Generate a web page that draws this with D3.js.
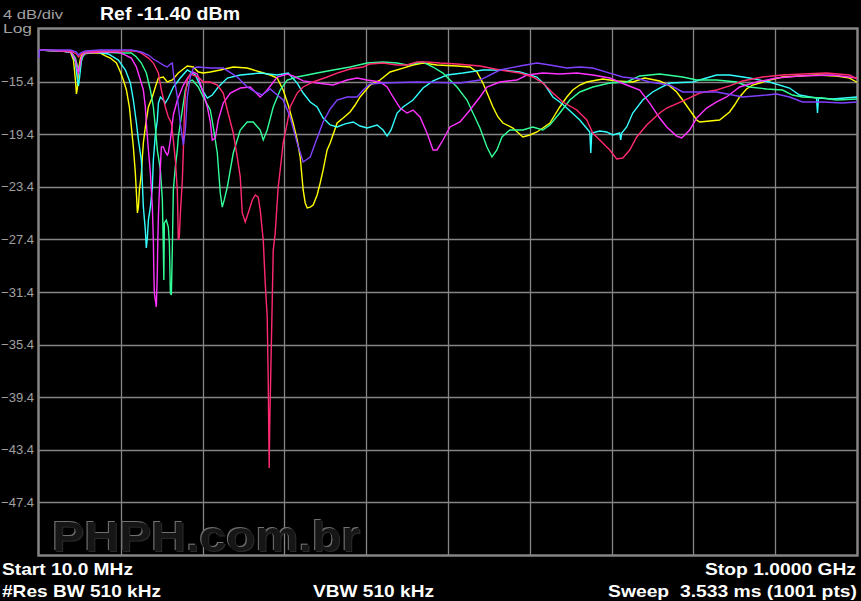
<!DOCTYPE html>
<html><head><meta charset="utf-8">
<script src="https://cdn.jsdelivr.net/npm/d3@7"></script>
<style>html,body{margin:0;padding:0;background:#000;overflow:hidden}</style>
</head><body>
<svg id="c" width="861" height="601"></svg>
<script>
// ---- axis settings (values) ----
const startMHz = 10, stopMHz = 1000;
const refLevel = -11.4, dbPerDiv = 4, nDivs = 10;
const yTickLabels = [-15.4, -19.4, -23.4, -27.4, -31.4, -35.4, -39.4, -43.4, -47.4];

// ---- traces: [frequency MHz, level dBm] ----
const traceYellow = [[10,-13.0],[36,-13.07],[48.1,-13.15],[51.7,-13.76],[54.1,-15.28],[55.3,-16.34],[56.5,-15.89],[57.7,-14.52],[60.2,-13.61],[62.6,-13.3],[72.3,-13.23],[84.3,-13.23],[90.4,-13.45],[96.4,-13.61],[103.7,-13.99],[108.5,-14.67],[112.1,-15.28],[115.8,-16.04],[119.4,-17.33],[121.8,-18.85],[124.2,-20.37],[126.6,-22.35],[127.9,-23.87],[129.1,-25.39],[130.3,-24.94],[131.5,-23.64],[132.7,-23.04],[133.9,-22.35],[135.1,-21.13],[136.3,-20.07],[138.7,-18.85],[142.4,-17.33],[147.2,-16.57],[150.8,-15.81],[154.5,-15.13],[160.5,-15.05],[165.3,-15.43],[171.4,-15.28],[178.6,-14.75],[189.5,-14.21],[196.8,-14.29],[202.8,-14.67],[208.8,-14.75],[217.3,-14.67],[229.4,-14.52],[245.1,-14.29],[262,-14.37],[277.7,-14.67],[289.8,-14.9],[298.3,-15.13],[305.5,-16.04],[311.6,-17.18],[317.6,-18.55],[322.5,-19.84],[326.1,-21.13],[329.7,-23.64],[332.2,-24.63],[334.6,-25.01],[338.2,-24.94],[341.8,-24.78],[346.6,-24.02],[350.3,-23.11],[353.9,-22.12],[358.7,-20.6],[362.4,-20.07],[370.8,-18.55],[378.1,-18.17],[386.5,-17.71],[392.6,-17.18],[398.6,-16.57],[410.7,-15.66],[422.8,-15.28],[434.9,-14.67],[450.6,-14.37],[462.7,-14.14],[474.8,-13.99],[491.7,-14.14],[515.9,-14.21],[531.6,-14.29],[540.1,-14.67],[547.3,-15.51],[553.4,-16.42],[559.4,-17.33],[565.5,-18.09],[571.5,-18.55],[583.6,-18.93],[595.6,-19.61],[604.1,-19.46],[612.6,-19.23],[619.8,-18.93],[628.3,-18.55],[634.3,-17.94],[640.3,-17.33],[648.8,-16.57],[656,-16.04],[664.5,-15.66],[673,-15.43],[692.3,-15.2],[709.2,-15.35],[728.6,-15.43],[743.1,-15.13],[761.2,-15.35],[773.3,-15.73],[781.8,-16.19],[789,-16.8],[797.5,-17.56],[806,-18.32],[809.6,-18.47],[821.7,-18.4],[833.7,-18.32],[845.8,-17.71],[851.8,-17.18],[857.9,-16.57],[866.3,-15.96],[873.6,-15.66],[890.5,-15.35],[909.8,-15.05],[930.4,-14.97],[951,-14.9],[975.2,-14.97],[990.9,-15.13],[1000,-15.45]];

const traceCyan = [[10,-13.0],[36,-13.07],[49,-13.15],[54.1,-13.91],[56.5,-15.28],[57.7,-15.73],[59,-15.13],[61.4,-13.76],[65,-13.23],[78.3,-13.15],[94,-13.3],[106.1,-13.76],[114.6,-14.52],[120.6,-15.51],[124.2,-16.8],[127.9,-18.55],[130.3,-19.84],[133.9,-21.36],[135.1,-23.11],[136.3,-24.94],[138.7,-26.69],[139.9,-28.05],[141.2,-27.22],[142.4,-25.93],[144.8,-24.94],[147.2,-23.42],[148.4,-21.36],[150.8,-19.46],[153.2,-18.32],[154.5,-17.03],[156.9,-16.57],[160.5,-16.8],[162.9,-17.03],[166.5,-16.65],[172.6,-15.81],[181,-15.13],[189.5,-14.52],[199.2,-14.9],[207.6,-16.04],[213.7,-16.65],[219.7,-16.42],[227,-15.81],[237.9,-15.13],[253.6,-14.9],[277.7,-14.75],[298.3,-14.9],[311.6,-14.75],[322.5,-15.51],[329.7,-16.27],[338.2,-16.95],[346.6,-17.33],[353.9,-18.17],[362.4,-18.7],[370.8,-18.85],[380.5,-18.62],[390.2,-18.47],[398.6,-18.78],[407.1,-18.93],[419.2,-18.7],[426.4,-19.08],[431.3,-19.54],[436.1,-19.08],[443.4,-17.79],[450.6,-17.33],[462.7,-16.8],[474.8,-15.89],[486.9,-15.35],[503.8,-14.9],[523.1,-14.75],[547.3,-14.52],[571.5,-14.52],[592,-14.67],[612.6,-15.05],[622.3,-15.66],[631.9,-16.57],[640.3,-16.95],[648.8,-17.41],[664.5,-18.32],[676.6,-19.23],[677.8,-20.83],[679,-19.31],[688.7,-19.16],[697.1,-19.23],[704.4,-19.46],[712.8,-19.31],[714,-19.84],[715.3,-19.31],[721.3,-18.85],[728.6,-17.79],[740.7,-16.8],[752.7,-16.19],[761.2,-15.89],[773.3,-15.51],[801.1,-15.43],[830.1,-14.9],[845.8,-14.9],[870,-15.13],[894.1,-15.43],[918.3,-15.89],[930.4,-16.42],[951,-16.65],[952.2,-17.79],[953.4,-16.65],[970.3,-16.72],[1000,-16.57]];

const traceGreen = [[10,-13.0],[36,-13.07],[49,-13.15],[54.1,-13.61],[56.5,-14.21],[59,-14.52],[60.2,-14.14],[62.6,-13.53],[66.2,-13.23],[84.3,-13.15],[108.5,-13.23],[121.8,-13.23],[127.9,-13.53],[133.9,-13.99],[139.9,-14.75],[144.8,-16.04],[148.4,-17.33],[150.8,-18.85],[153.2,-20.6],[156.9,-22.12],[159.3,-24.4],[160.5,-28.21],[161.1,-30.49],[161.7,-26.15],[164.1,-25.93],[166.5,-26.46],[167.8,-27.67],[169,-31.48],[170.2,-31.63],[171.4,-27.98],[172.6,-23.64],[175,-21.89],[177.4,-20.6],[178.6,-19.61],[183.5,-17.56],[187.1,-16.04],[190.7,-15.43],[195.6,-15.28],[202.8,-15.81],[208.8,-16.57],[217.3,-17.56],[220.9,-18.85],[225.8,-20.83],[229.4,-23.87],[231.8,-24.94],[234.2,-24.4],[237.9,-23.42],[245.1,-20.83],[253.6,-19.08],[262,-18.47],[269.3,-18.47],[277.7,-19.08],[281.4,-19.84],[286.2,-19.08],[293.5,-17.33],[301.9,-16.04],[310.4,-15.28],[322.5,-15.05],[346.6,-14.75],[366,-14.52],[386.5,-14.29],[407.1,-13.99],[426.4,-13.91],[443.4,-13.99],[455.4,-14.14],[467.5,-13.99],[474.8,-13.91],[486.9,-14.29],[498.9,-14.75],[515.9,-15.81],[528,-16.8],[535.2,-17.79],[543.7,-18.93],[552.1,-20.37],[558.2,-21.13],[564.2,-20.6],[570.3,-19.61],[579.9,-19.08],[595.6,-19.08],[607.7,-18.85],[619.8,-19.08],[628.3,-18.7],[640.3,-17.79],[652.4,-16.8],[664.5,-16.19],[680.2,-15.81],[700.8,-15.51],[721.3,-15.43],[737,-14.97],[761.2,-14.82],[789,-15.05],[806,-15.28],[830.1,-15.28],[854.3,-15.43],[870,-15.81],[890.5,-15.96],[909.8,-16.04],[921.9,-16.42],[934,-16.57],[958.2,-16.65],[975.2,-16.8],[1000,-16.72]];

const traceMagenta = [[10,-13.0],[36,-13.07],[49,-13.15],[54.1,-13.76],[56.5,-14.52],[57.7,-14.75],[59,-14.37],[61.4,-13.53],[65,-13.23],[84.3,-13.15],[106.1,-13.15],[114.6,-13.38],[121.8,-13.61],[127.9,-14.29],[132.7,-15.28],[136.3,-16.04],[138.7,-17.33],[139.9,-18.55],[142.4,-20.6],[144.8,-22.35],[147.2,-24.94],[148.4,-27.45],[149,-29.96],[149.6,-31.48],[152,-32.54],[153.2,-29.96],[153.8,-27.45],[154.5,-25.7],[155.7,-23.64],[156.9,-21.89],[158.1,-20.37],[160.5,-20.37],[162.9,-20.75],[165.3,-20.98],[166.5,-20.83],[169,-19.84],[172.6,-17.94],[177.4,-16.8],[184.7,-15.66],[190.7,-15.05],[196.8,-14.67],[201.6,-14.82],[208.8,-16.27],[213.7,-17.33],[217.3,-18.47],[219.7,-19.84],[223.4,-19.69],[227,-18.32],[233,-17.03],[241.5,-16.27],[253.6,-15.89],[265.7,-15.81],[271.7,-16.19],[277.7,-16.57],[286.2,-16.04],[298.3,-15.05],[310.4,-14.82],[317.6,-14.97],[329.7,-15.35],[346.6,-15.51],[366,-15.66],[382.9,-15.28],[395,-15.13],[407.1,-15.28],[422.8,-15.43],[431.3,-15.81],[438.5,-16.57],[447,-17.41],[455.4,-17.79],[462.7,-17.56],[471.1,-18.09],[479.6,-19.31],[486.9,-20.6],[491.7,-20.6],[498.9,-19.84],[507.4,-18.85],[519.5,-18.47],[531.6,-17.56],[543.7,-16.57],[552.1,-15.81],[567.9,-15.43],[588.4,-15.28],[600.5,-14.9],[619.8,-14.75],[640.3,-14.82],[660.9,-14.75],[680.2,-14.9],[700.8,-15.13],[721.3,-15.66],[737,-16.04],[749.1,-17.03],[761.2,-18.17],[769.7,-18.85],[781.8,-19.54],[787.8,-19.69],[797.5,-19.08],[806,-18.17],[818,-17.41],[830.1,-16.95],[842.2,-16.57],[857.9,-15.81],[878.4,-15.43],[902.6,-15.13],[930.4,-14.97],[970.3,-14.9],[1000,-15.13]];

const tracePink = [[10,-13.0],[48.1,-13.07],[55.3,-13.3],[57.7,-13.53],[60.2,-13.38],[63.8,-13.15],[84.3,-13.07],[126.6,-13.07],[133.9,-13.23],[142.4,-13.61],[148.4,-13.99],[154.5,-14.75],[158.1,-16.04],[162.9,-17.33],[166.5,-18.09],[170.2,-18.55],[172.6,-19.84],[175,-21.36],[177.4,-23.64],[178.6,-27.45],[179.8,-27.22],[181,-25.55],[183.5,-22.88],[184.7,-20.6],[185.9,-17.94],[187.1,-16.42],[189.5,-15.28],[193.1,-14.82],[202.8,-15.05],[208.8,-15.43],[217.3,-15.43],[225.8,-15.66],[233,-16.27],[237.9,-17.56],[245.1,-19.31],[249.9,-21.13],[253.6,-22.66],[256,-25.39],[259.6,-26.08],[263.2,-25.39],[268.1,-24.4],[271.7,-24.02],[275.3,-24.18],[277.7,-25.16],[281.4,-27.45],[283.8,-30.72],[286.2,-33.3],[287.4,-38.09],[288.6,-44.79],[289.2,-41.67],[291,-36.04],[292.3,-32.01],[293.5,-28.21],[295.9,-26.91],[299.5,-23.42],[301.9,-22.12],[305.5,-20.07],[310.4,-18.55],[314,-17.33],[322.5,-16.27],[329.7,-15.81],[341.8,-15.43],[358.7,-15.05],[370.8,-14.75],[386.5,-14.44],[402.3,-14.29],[410.7,-14.06],[426.4,-13.99],[443.4,-14.14],[455.4,-14.14],[467.5,-13.91],[479.6,-13.91],[495.3,-13.99],[515.9,-14.06],[543.7,-14.21],[567.9,-14.52],[592,-14.75],[607.7,-15.05],[619.8,-15.51],[631.9,-16.27],[644,-16.95],[660.9,-17.56],[673,-18.32],[680.2,-19.31],[692.3,-20.07],[700.8,-20.6],[709.2,-21.28],[716.5,-21.21],[724.9,-20.6],[733.4,-19.61],[745.5,-18.7],[761.2,-17.79],[769.7,-17.41],[789,-16.88],[809.6,-16.27],[830.1,-16.04],[845.8,-15.73],[861.5,-15.35],[885.7,-15.05],[909.8,-14.9],[934,-14.82],[963.1,-14.75],[990.9,-14.9],[1000,-15.2]];

const tracePurple = [[10,-13.6],[10.5,-13.0],[48.1,-13.0],[55.3,-13.15],[57.7,-13.38],[60.2,-13.23],[66.2,-13.07],[84.3,-13.0],[121.8,-13.0],[133.9,-13.15],[142.4,-13.38],[148.4,-13.68],[154.5,-13.91],[160.5,-14.14],[165.3,-14.29],[169,-14.06],[171.4,-13.99],[172.6,-14.75],[177.4,-16.57],[181,-18.55],[184.7,-20.22],[187.1,-19.08],[189.5,-16.57],[193.1,-15.05],[196.8,-14.37],[201.6,-14.29],[217.3,-14.37],[233,-14.37],[249.9,-15.05],[262,-15.81],[271.7,-16.19],[280.1,-16.42],[289.8,-15.96],[298.3,-16.42],[305.5,-16.8],[314,-18.09],[322.5,-20.07],[329.7,-21.51],[338.2,-21.13],[346.6,-19.69],[353.9,-18.47],[362.4,-17.48],[370.8,-16.8],[382.9,-16.57],[395,-16.57],[402.3,-16.04],[410.7,-15.58],[426.4,-15.51],[467.5,-15.43],[519.5,-15.51],[543.7,-15.28],[567.9,-14.52],[592,-14.21],[612.6,-13.99],[628.3,-14.14],[648.8,-14.37],[664.5,-14.29],[680.2,-14.37],[700.8,-14.75],[716.5,-15.05],[737,-15.2],[749.1,-15.43],[773.3,-15.66],[789,-16.19],[830.1,-16.19],[849.4,-16.42],[861.5,-16.57],[890.5,-16.42],[902.6,-16.34],[918.3,-16.57],[934,-16.95],[958.2,-16.95],[982.4,-17.03],[1000,-16.95]];

const traceNames = ["yellow","cyan","green","magenta","pink","purple"];
const traceColors = ["#ffff00","#33ffff","#33ff99","#ff33ff","#ff2a70","#8040ff"];
const traces = [traceYellow, traceCyan, traceGreen, traceMagenta, tracePink, tracePurple];

// ---- layout ----
const L = 39, R = 857, T = 29, B = 555;
const svg = d3.select("#c");
svg.append("rect").attr("width",861).attr("height",601).attr("fill","#000");

const defs = svg.append("defs");
defs.html(`<filter id="emb" x="-5%" y="-20%" width="110%" height="140%">
  <feOffset in="SourceAlpha" dx="-1.2" dy="-1.2" result="o1"/>
  <feFlood flood-color="#707070" result="f1"/>
  <feComposite in="f1" in2="o1" operator="in" result="hl"/>
  <feOffset in="SourceAlpha" dx="1.2" dy="1.2" result="o2"/>
  <feFlood flood-color="#2a2a2a" result="f2"/>
  <feComposite in="f2" in2="o2" operator="in" result="sh"/>
  <feMerge><feMergeNode in="hl"/><feMergeNode in="sh"/><feMergeNode in="SourceGraphic"/></feMerge>
</filter>`);

const x = d3.scaleLinear().domain([startMHz, stopMHz]).range([L, R]);
const y = d3.scaleLinear().domain([refLevel - dbPerDiv*nDivs, refLevel]).range([B, T]);

const gridColor = "#858585";
const grid = svg.append("g");
const fTicks = d3.range(nDivs+1).map(i => startMHz + i*(stopMHz-startMHz)/nDivs);
const dTicks = d3.range(nDivs+1).map(i => refLevel - i*dbPerDiv);
grid.selectAll("line.v").data(fTicks.slice(1,-1)).join("line")
  .attr("x1", d => Math.round(x(d))+0.5).attr("x2", d => Math.round(x(d))+0.5)
  .attr("y1", T).attr("y2", B).attr("stroke", gridColor).attr("stroke-width", 1.3);
grid.selectAll("line.h").data(dTicks.slice(1,-1)).join("line")
  .attr("y1", d => Math.round(y(d))+0.5).attr("y2", d => Math.round(y(d))+0.5)
  .attr("x1", L).attr("x2", R).attr("stroke", gridColor).attr("stroke-width", 1.3);

// watermark (embossed)
svg.append("text").attr("x",52).attr("y",551)
  .attr("font-family","'Liberation Sans', Arial, sans-serif")
  .attr("font-weight","bold").attr("font-size", 42).attr("fill","#151515")
  .attr("filter","url(#emb)")
  .attr("textLength",308).attr("lengthAdjust","spacingAndGlyphs").text("PHPH.com.br");

// border
svg.append("rect").attr("x",L-0.5).attr("y",T-0.5).attr("width",R-L+1).attr("height",B-T+1)
  .attr("fill","none").attr("stroke",gridColor).attr("stroke-width",2.5);

// y axis labels
const yAxis = d3.axisLeft(y).tickValues(yTickLabels).tickSize(0).tickPadding(5)
  .tickFormat(d3.format(".1f"));
const ga = svg.append("g").attr("transform",`translate(${L},0)`).call(yAxis);
ga.select(".domain").remove();
ga.selectAll("text").attr("fill","#a0a0a0").attr("font-size",13)
  .attr("font-family","'Liberation Sans', Arial, sans-serif");

// traces
const line = d3.line().x(d => x(d[0])).y(d => y(d[1]));
svg.append("g").selectAll("path").data(traces).join("path")
  .attr("d", line).attr("fill","none")
  .attr("stroke", (d,i) => traceColors[i]).attr("stroke-width", 1.4)
  .attr("stroke-linejoin","miter");

// texts
const ff = "'Liberation Sans', Arial, sans-serif";
function txt(s, xx, yy, opt) {
  const t = svg.append("text").attr("x", xx).attr("y", yy).text(s)
    .attr("font-family", ff).attr("font-size", opt.size).attr("fill", opt.fill)
    .attr("font-weight", opt.weight || "normal").attr("text-anchor", opt.anchor || "start")
    .style("white-space","pre");
  if (opt.len) t.attr("textLength", opt.len).attr("lengthAdjust","spacingAndGlyphs");
  return t;
}
txt("4 dB/div", 3, 19, {size:13, fill:"#a0a0a0", len:60});
txt("Log", 3, 33, {size:13, fill:"#a0a0a0", len:29});
txt("Ref -11.40 dBm", 100, 20, {size:18, fill:"#fff", weight:"bold", len:140});
txt("Start 10.0 MHz", 2, 575, {size:17, fill:"#fff", weight:"bold", len:131});
txt("#Res BW 510 kHz", 2, 597, {size:17, fill:"#fff", weight:"bold", len:159});
txt("VBW 510 kHz", 313, 597, {size:17, fill:"#fff", weight:"bold", len:121});
txt("Stop 1.0000 GHz", 856, 575, {size:17, fill:"#fff", weight:"bold", anchor:"end", len:151});
txt("Sweep  3.533 ms (1001 pts)", 857, 597, {size:17, fill:"#fff", weight:"bold", anchor:"end", len:249});
</script>
</body></html>
